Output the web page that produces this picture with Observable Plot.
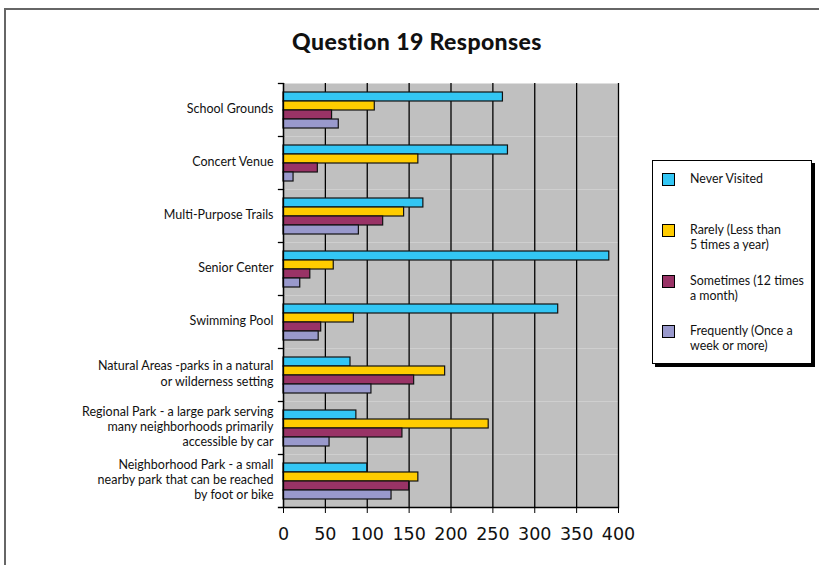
<!DOCTYPE html>
<html><head><meta charset="utf-8">
<script src="https://cdn.jsdelivr.net/npm/d3@7"></script>
<script src="https://cdn.jsdelivr.net/npm/@observablehq/plot@0.6"></script>
<style>
body{margin:0;background:#fff;}
#wrap{position:relative;width:819px;height:565px;overflow:hidden;font-family:Lato,"Open Sans",sans-serif;color:#111;}
#border{position:absolute;left:4px;top:8px;width:840px;height:600px;border-left:2px solid #666;border-top:2px solid #666;}
#title{position:absolute;left:0;width:834px;top:27px;text-align:center;font-weight:900;font-size:23px;letter-spacing:0.4px;}
#chart{position:absolute;left:0;top:0;}
#legend{position:absolute;left:652px;top:160px;width:158px;height:202px;border:1px solid #000;box-shadow:3px 3px 0 #000;background:#fff;}
.item{position:absolute;left:9px;display:flex;align-items:flex-start;font-size:12.4px;line-height:14.5px;}
.sw{width:11px;height:11px;border:1px solid #000;margin-top:1px;margin-right:15px;flex:none;}
</style></head>
<body>
<div id="wrap">
<div id="border"></div>
<div id="chart"></div>
<div id="title">Question 19 Responses</div>
<div id="legend"></div>
</div>
<script>
const categories = [
  "School Grounds",
  "Concert Venue",
  "Multi-Purpose Trails",
  "Senior Center",
  "Swimming Pool",
  "Natural Areas -parks in a natural\nor wilderness setting",
  "Regional Park - a large park serving\nmany neighborhoods primarily\naccessible by car",
  "Neighborhood Park - a small\nnearby park that can be reached\nby foot or bike"
];
const series = ["Never Visited", "Rarely (Less than 5 times a year)", "Sometimes (12 times a month)", "Frequently (Once a week or more)"];
const legendLabels = ["Never Visited", "Rarely (Less than<br>5 times a year)", "Sometimes (12 times<br>a month)", "Frequently (Once a<br>week or more)"];
const neverVisited = [262, 268, 167, 389, 328, 80, 87, 100];
const rarely       = [109, 161, 144, 60, 84, 193, 245, 161];
const sometimes    = [58, 41, 119, 32, 45, 156, 142, 150];
const frequently   = [66, 12, 90, 20, 42, 105, 55, 129];
const colors = ["#33C6F4", "#FFCC00", "#993366", "#9999CC"];
const xTicks = [0, 50, 100, 150, 200, 250, 300, 350, 400];

const seriesValues = [neverVisited, rarely, sometimes, frequently];
const table = [];
categories.forEach((c, i) => series.forEach((s, j) => table.push({category: c, series: s, value: seriesValues[j][i]})));

const W = 819, H = 565, mL = 283, mR = 201, mT = 82, mB = 58;
const chart = Plot.plot({
  width: W, height: H,
  marginLeft: mL, marginRight: mR, marginTop: mT, marginBottom: mB,
  style: {background: "transparent", fontFamily: "Lato, sans-serif", color: "#111"},
  x: {domain: [0, 400], ticks: xTicks, label: null},
  y: {domain: series, axis: null, paddingInner: 0, paddingOuter: 0.77, align: 0.55},
  fy: {domain: categories, padding: 0, label: null, axis: null},
  color: {domain: series, range: colors},
  marks: [
    Plot.frame({fill: "#C0C0C0"}),
    Plot.gridX({ticks: xTicks, stroke: "#000", strokeOpacity: 1, strokeWidth: 1.3}),
    Plot.barX(table, {fy: "category", y: "series", x: "value", fill: "series", stroke: "#111", strokeWidth: 1.2}),
    Plot.ruleX([0], {stroke: "#000", strokeWidth: 1.3}),
    Plot.frame({anchor: "top", insetLeft: -5, insetRight: W - mL - mR, stroke: "#000", strokeWidth: 1.3}),
    Plot.frame({anchor: "bottom", fy: () => categories[categories.length - 1], insetLeft: -5, stroke: "#000", strokeWidth: 1.3}),
    Plot.axisX({anchor: "bottom", ticks: xTicks, tickSize: 6, tickPadding: 14, fontSize: 17.5, fontFamily: "DejaVu Sans", label: null, stroke: "#000"}),
    Plot.axisFy({anchor: "left", tickSize: 0, tickPadding: 10, fontSize: 12.5, lineHeight: 1.22, label: null, dy: -2})
  ]
});
document.getElementById("chart").appendChild(chart);

const legend = document.getElementById("legend");
const tops = [11, 62, 113, 163];
series.forEach((s, j) => {
  const it = document.createElement("div");
  it.className = "item";
  it.style.top = tops[j] + "px";
  it.innerHTML = `<div class="sw" style="background:${colors[j]}"></div><div>${legendLabels[j]}</div>`;
  legend.appendChild(it);
});
</script>
</body></html>
